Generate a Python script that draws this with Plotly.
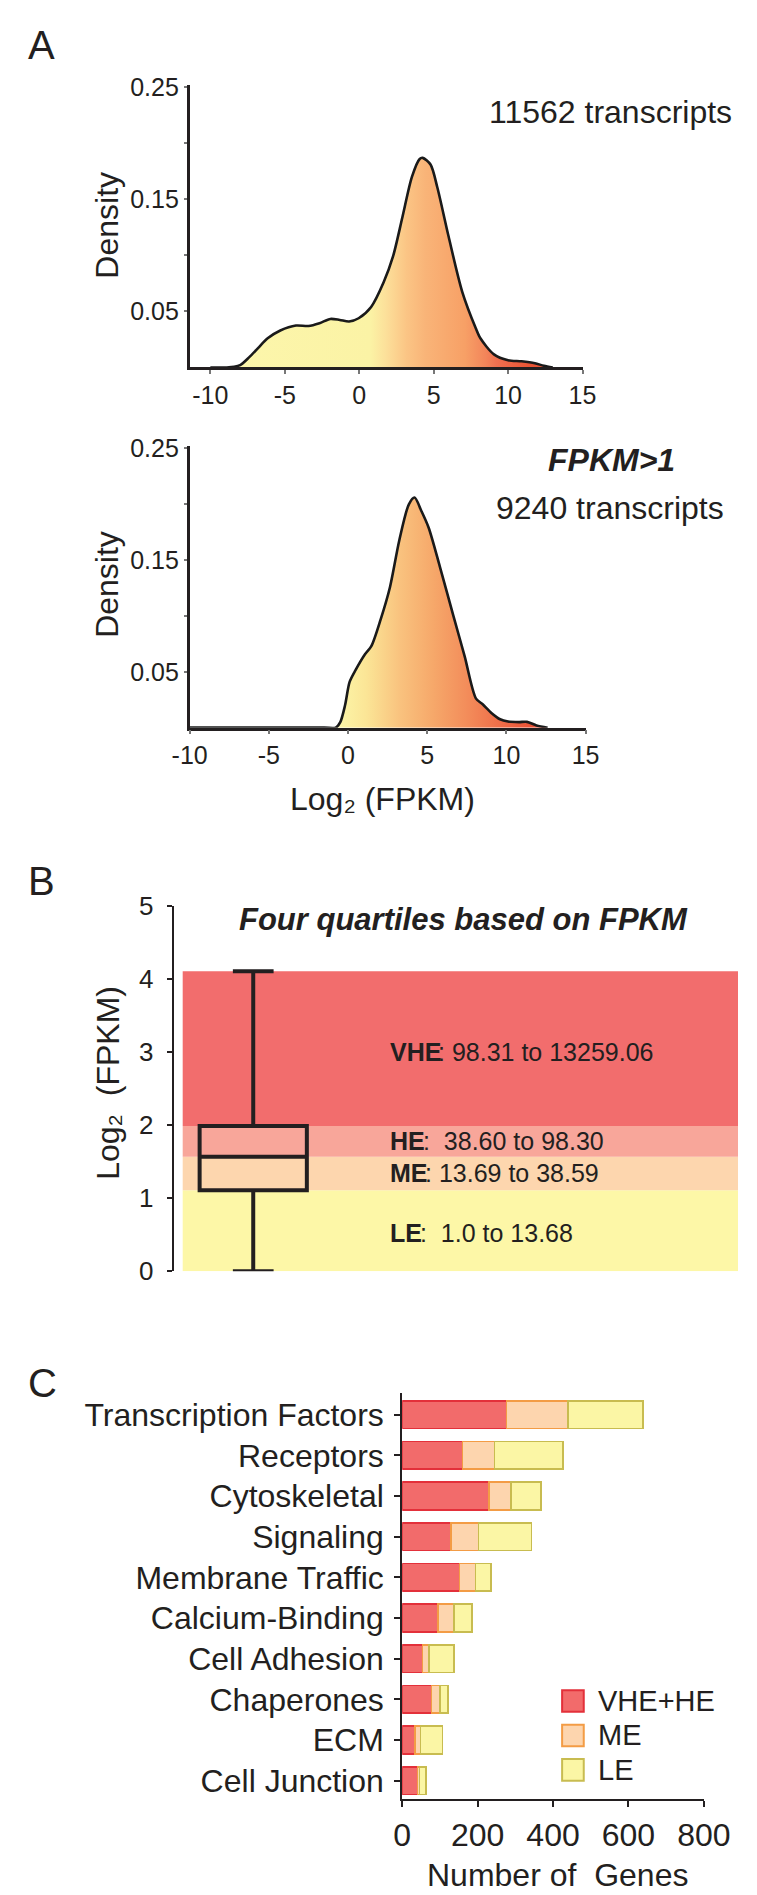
import plotly.graph_objects as go

# ---------------- data ----------------
# Panel A (top): density of log2(FPKM), all transcripts
all_x = [-10, -8.9, -8.4, -8.0, -7.4, -6.78, -6.15, -5.3, -4.25, -3.41, -2.67, -1.94,
         -1.31, -0.68, -0.04, 0.8, 1.64, 2.27, 2.9, 3.54, 4.06, 4.26, 4.79, 5.24, 6.0,
         6.92, 7.83, 8.14, 9.05, 10.0, 10.9, 11.8, 12.4, 13.0]
all_density = [0, 0, 0.0005, 0.002, 0.009, 0.0175, 0.026, 0.033, 0.0374, 0.037, 0.0395,
               0.0433, 0.0424, 0.041, 0.0439, 0.054, 0.076, 0.099, 0.134, 0.17, 0.186,
               0.187, 0.181, 0.161, 0.117, 0.0675, 0.035, 0.026, 0.0117, 0.0065, 0.0055,
               0.0038, 0.0015, 0]
all_label = "11562 transcripts"

# Panel A (bottom): FPKM>1
sel_x = [-10, -1.5, -0.78, -0.49, -0.19, 0.1, 0.49, 1.08, 1.47, 2.06, 2.65, 3.24, 3.84,
         4.2, 4.63, 5.09, 5.8, 6.66, 7.36, 8.08, 8.5, 9.07, 9.6, 10.1, 10.8, 11.3, 11.9, 12.6]
sel_density = [0, 0, 0, 0.005, 0.02, 0.041, 0.052, 0.066, 0.073, 0.097, 0.126, 0.168, 0.2,
               0.206, 0.194, 0.179, 0.144, 0.0997, 0.064, 0.026, 0.021, 0.013, 0.0075,
               0.0055, 0.005, 0.0052, 0.002, 0]
sel_label = "9240 transcripts"

a_xtick_vals = [-10, -5, 0, 5, 10, 15]
a_xtick_text = ["-10", "-5", "0", "5", "10", "15"]
a_ytick_vals = [0.05, 0.15, 0.25]
a_ytick_text = ["0.05", "0.15", "0.25"]
a_yminor_vals = [0.1, 0.2]

# Panel B: quartile bands (log10 FPKM scale) and box summary
band_names = ["LE", "ME", "HE", "VHE"]
band_bounds = [0.0, 1.11, 1.57, 1.99, 4.11]
band_colors = ["#fdf7a7", "#fdd6ae", "#f8a69a", "#f26d6d"]
band_ranges = [":  1.0 to 13.68", ": 13.69 to 38.59", ":  38.60 to 98.30", ": 98.31 to 13259.06"]
band_text_y = [0.53, 1.35, 1.78, 3.0]
box_q1 = [1.11]
box_median = [1.57]
box_q3 = [1.99]
box_low = [0.0]
box_high = [4.11]
b_ytick_vals = [0, 1, 2, 3, 4, 5]

# Panel C: gene categories
categories = ["Transcription Factors", "Receptors", "Cytoskeletal", "Signaling",
              "Membrane Traffic", "Calcium-Binding", "Cell Adhesion", "Chaperones",
              "ECM", "Cell Junction"]
vhe_he = [276, 160, 230, 130, 152, 95, 54, 78, 34, 41]
me = [164, 85, 58, 72, 42, 42, 17, 22, 14, 5]
le = [199, 181, 80, 141, 41, 48, 66, 22, 59, 17]
series_names = ["VHE+HE", "ME", "LE"]
series_fill = ["#f26b6b", "#fdd5ae", "#fbf6a5"]
series_line = ["#e3303a", "#f39c45", "#c8bc50"]
c_xtick_vals = [0, 200, 400, 600, 800]

# ---------------- helpers ----------------
W, H = 757, 1895
FONT = "Liberation Sans, Arial, Helvetica, DejaVu Sans, sans-serif"
INK = "#231f20"


def px(x):
    return x / W


def py(y):
    return 1 - y / H


top_scale = [[0.0, "#fcf6ac"], [0.40, "#fbf3a5"], [0.44, "#fce09a"], [0.492, "#fbc585"],
             [0.54, "#f9b478"], [0.64, "#f7a066"], [0.692, "#f3855a"], [0.72, "#f07050"],
             [0.80, "#ea5535"], [0.88, "#e84a2e"], [1.0, "#e84a2e"]]
bot_scale = [[0.0, "#fcf4a6"], [0.107, "#fbe596"], [0.25, "#f9c27e"], [0.39, "#f6a86a"],
             [0.536, "#f38c5a"], [0.68, "#ef6c48"], [0.82, "#e94f33"], [1.0, "#e84a2e"]]

fig = go.Figure()

fig.add_trace(go.Scatter(
    x=all_x, y=all_density, mode="lines", line=dict(color="#1a1a1a", width=2.6, shape="spline", smoothing=0.8),
    fill="tozeroy", fillgradient=dict(type="horizontal", colorscale=top_scale, start=-10, stop=15),
    xaxis="x", yaxis="y", showlegend=False, hoverinfo="skip"))

fig.add_trace(go.Scatter(
    x=sel_x, y=sel_density, mode="lines", line=dict(color="#1a1a1a", width=2.6, shape="spline", smoothing=0.8),
    fill="tozeroy", fillgradient=dict(type="horizontal", colorscale=bot_scale, start=-1, stop=13),
    xaxis="x2", yaxis="y2", showlegend=False, hoverinfo="skip"))

# Panel B box
fig.add_trace(go.Box(
    x=[1.41], q1=box_q1, median=box_median, q3=box_q3, lowerfence=box_low, upperfence=box_high,
    width=1.9, whiskerwidth=0.38, line=dict(color=INK, width=4), fillcolor="rgba(0,0,0,0)",
    boxpoints=False, xaxis="x3", yaxis="y3", showlegend=False, hoverinfo="skip"))

# Panel C stacked bars
for name, vals, fc, lc in zip(series_names, [vhe_he, me, le], series_fill, series_line):
    fig.add_trace(go.Bar(
        y=categories, x=vals, name=name, orientation="h",
        marker=dict(color=fc, line=dict(color=lc, width=1.5)),
        xaxis="x4", yaxis="y4", showlegend=False))

shapes = []
for i in range(len(band_names)):
    shapes.append(dict(type="rect", xref="x3", yref="y3", x0=0.16, x1=10,
                       y0=band_bounds[i], y1=band_bounds[i + 1],
                       fillcolor=band_colors[i], line=dict(width=0), layer="below"))

annotations = []


def note(text, x, y, size, xanchor="center", yanchor="middle", angle=0, bold=False, italic=False):
    annotations.append(dict(text=text, x=px(x), y=py(y), xref="paper", yref="paper",
                            xanchor=xanchor, yanchor=yanchor, showarrow=False, textangle=angle,
                            font=dict(family=FONT, size=size, color=INK,
                                      weight="bold" if bold else "normal",
                                      style="italic" if italic else "normal")))


# panel letters
note("A", 0, 22, 40, xanchor="left")
note("B", 0, 872, 40, xanchor="left")
note("C", 0, 1382, 40, xanchor="left")

# panel A texts
note(all_label, 621, 90, 32)
note("FPKM>1", 623, 444, 32, bold=True, italic=True)
note(sel_label, 621, 493, 32)
note("Density", 86, 205, 32, angle=-90)
note("Density", 86, 570, 32, angle=-90)
note("Log\u2082 (FPKM)", 379, 788, 32)

# panel B texts
note("Four quartiles based on FPKM", 465, 911, 31, bold=True, italic=True)
note("Log\u2082  (FPKM)", 87, 1077, 32, angle=-90)
# bold label widths (Arial Bold metrics, em) for placing the value text right after it
label_em = {"LE": 1.278, "ME": 1.5, "HE": 1.389, "VHE": 2.056}
B_SIZE = 25
B_LEFT = 385
yaxis3_top, yaxis3_bot = 897.5, 1268.3
for name, rng, yv in zip(band_names, band_ranges, band_text_y):
    ypix = yaxis3_bot - (yv / 5.0) * (yaxis3_bot - yaxis3_top)
    note(name, B_LEFT, ypix, B_SIZE, xanchor="left", bold=True)
    note(rng, B_LEFT + label_em[name] * B_SIZE, ypix, B_SIZE, xanchor="left")

# panel C texts & manual legend
note("Number of  Genes", 565, 1882, 32)
leg_y = [1705, 1740, 1775]
for name, fc, lc, yc in zip(series_names, series_fill, series_line, leg_y):
    shapes.append(dict(type="rect", xref="paper", yref="paper", x0=px(570), x1=px(593),
                       y0=py(yc + 11), y1=py(yc - 11), fillcolor=fc, line=dict(color=lc, width=2)))
    note(name, 606, yc, 29, xanchor="left")

axis_common = dict(showgrid=False, zeroline=False, fixedrange=True, linecolor=INK,
                   tickcolor=INK, tickfont=dict(family=FONT, size=25, color=INK))
a_minor = dict(tickmode="array", tickvals=a_yminor_vals, ticks="outside", ticklen=3,
               tickwidth=1.5, tickcolor="#777", showgrid=False)

fig.update_layout(
    width=W, height=H, margin=dict(l=0, r=0, t=0, b=0),
    paper_bgcolor="white", plot_bgcolor="rgba(0,0,0,0)",
    font=dict(family=FONT, color=INK),
    barmode="stack", bargap=0.32,
    shapes=shapes, annotations=annotations,
    xaxis=dict(axis_common, domain=[px(174), px(591.7)], range=[-11.39, 15], anchor="y",
               tickvals=a_xtick_vals, ticktext=a_xtick_text, ticks="outside", ticklen=4,
               tickwidth=1.5, tickcolor="#777", showline=True, linewidth=2.6),
    yaxis=dict(axis_common, domain=[py(350), py(63)], range=[0, 0.252], anchor="x",
               tickvals=a_ytick_vals, ticktext=a_ytick_text, ticks="outside", ticklen=3,
               tickwidth=1.5, tickcolor="#777", showline=True, linewidth=2.6, minor=a_minor),
    xaxis2=dict(axis_common, domain=[px(174), px(595)], range=[-10, 15], anchor="y2",
                tickvals=a_xtick_vals, ticktext=a_xtick_text, ticks="outside", ticklen=4,
                tickwidth=1.5, tickcolor="#777", showline=True, linewidth=2.6),
    yaxis2=dict(axis_common, domain=[py(716), py(430)], range=[0, 0.252], anchor="x2",
                tickvals=a_ytick_vals, ticktext=a_ytick_text, ticks="outside", ticklen=3,
                tickwidth=1.5, tickcolor="#777", showline=True, linewidth=2.6, minor=a_minor),
    xaxis3=dict(axis_common, domain=[px(157), px(757)], range=[0, 10], anchor="y3", visible=False),
    yaxis3=dict(axis_common, domain=[py(yaxis3_bot), py(yaxis3_top)], range=[0, 5], anchor="x3",
                tickvals=b_ytick_vals, ticks="outside", ticklen=5, tickwidth=2, showline=True,
                linewidth=2, tickfont=dict(family=FONT, size=26, color=INK), ticklabelstandoff=8),
    xaxis4=dict(axis_common, domain=[px(400), px(720.7)], range=[0, 800], anchor="y4",
                tickvals=c_xtick_vals, ticks="outside", ticklen=6, tickwidth=2, showline=True,
                linewidth=2, tickfont=dict(family=FONT, size=32, color=INK)),
    yaxis4=dict(axis_common, domain=[py(1805), py(1391.7)], type="category",
                categoryorder="array", categoryarray=categories, range=[9.46, -0.54],
                anchor="x4", ticks="outside", ticklen=6, tickwidth=2, showline=True, linewidth=2,
                tickfont=dict(family=FONT, size=32, color=INK), ticklabelstandoff=4),
)

fig.write_html("out.html")
